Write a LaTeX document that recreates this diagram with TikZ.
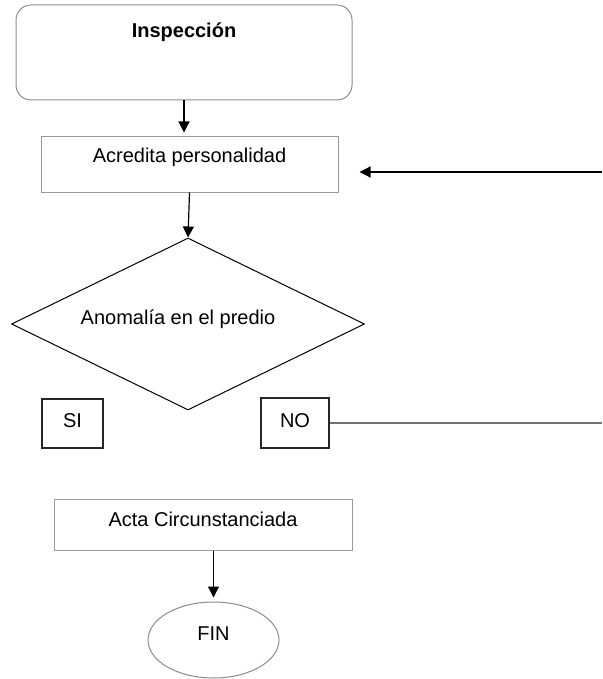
\documentclass[tikz,border=0pt]{standalone}
\usepackage{fontspec}
\setmainfont{Liberation Sans}
\usetikzlibrary{shapes.geometric}
\usetikzlibrary{arrows.meta}
\usetikzlibrary{positioning}

\begin{document}
\begin{tikzpicture}[
    x=1pt, y=-1pt,
    every node/.style={font=\fontsize{20}{24}\selectfont, inner sep=0pt},
    startbox/.style={draw=black!45, line width=1pt, rounded corners=15pt, minimum width=336pt, text height=33pt, text depth=62pt, font=\bfseries\fontsize{20}{24}\selectfont},
    procbox/.style={draw=black!40, line width=1pt},
    answer/.style={draw=black!85, line width=1.3pt},
    decision/.style={diamond, draw, line width=1pt, aspect=2.05, minimum width=353pt, minimum height=172pt, text height=15pt, text depth=15pt},
    endnode/.style={ellipse, draw=black!45, line width=1pt, minimum width=131pt, minimum height=76pt, text height=15pt, text depth=15pt},
    arrow/.style={-{Triangle[length=11pt,width=11pt]}, line width=1.2pt},
    noline/.style={draw=black!55, line width=1.5pt}
]
  \useasboundingbox (0,0) rectangle (602,679);

  % Start (TOP)
  \node[startbox] (inspeccion) at (184,52.5) {Inspección};

  % Identification
  \node[procbox, minimum width=297pt, text height=26pt, text depth=29pt] (acredita) at (189.5,164.5) {Acredita personalidad};

  % Decision
  \node[decision] (anomalia) at (188,324) {Anomalía en el predio\hspace*{20pt}};

  % Answers
  \node[answer, minimum width=61pt, text height=28pt, text depth=21pt] (si) at (72.5,423.5) {SI};
  \node[answer, minimum width=68pt, text height=29pt, text depth=21pt] (no) at (295,423) {NO};

  % Record
  \node[procbox, minimum width=298pt, text height=27pt, text depth=24pt] (acta) at (203,524.5) {Acta Circunstanciada};

  % End (BOTTOM)
  \node[endnode] (fin) at (213.5,640) {FIN};

  % Return point at the right edge
  \coordinate (retorno) at (602,172);

  % Arrows: main flow (downward)
  \draw[arrow, shorten >=4pt] (inspeccion.south) -- (inspeccion.south |- acredita.north);
  \draw[arrow] (acredita.south) -- (anomalia.north);
  \draw[arrow, shorten >=4pt] (acta.south -| fin.north) -- (fin.north);

  % Return line from NO
  \draw[noline] (no.east) -- (no.east -| retorno);
  \draw[arrow, shorten >=21pt] (retorno) -- (retorno -| acredita.east);

\end{tikzpicture}
\end{document}
